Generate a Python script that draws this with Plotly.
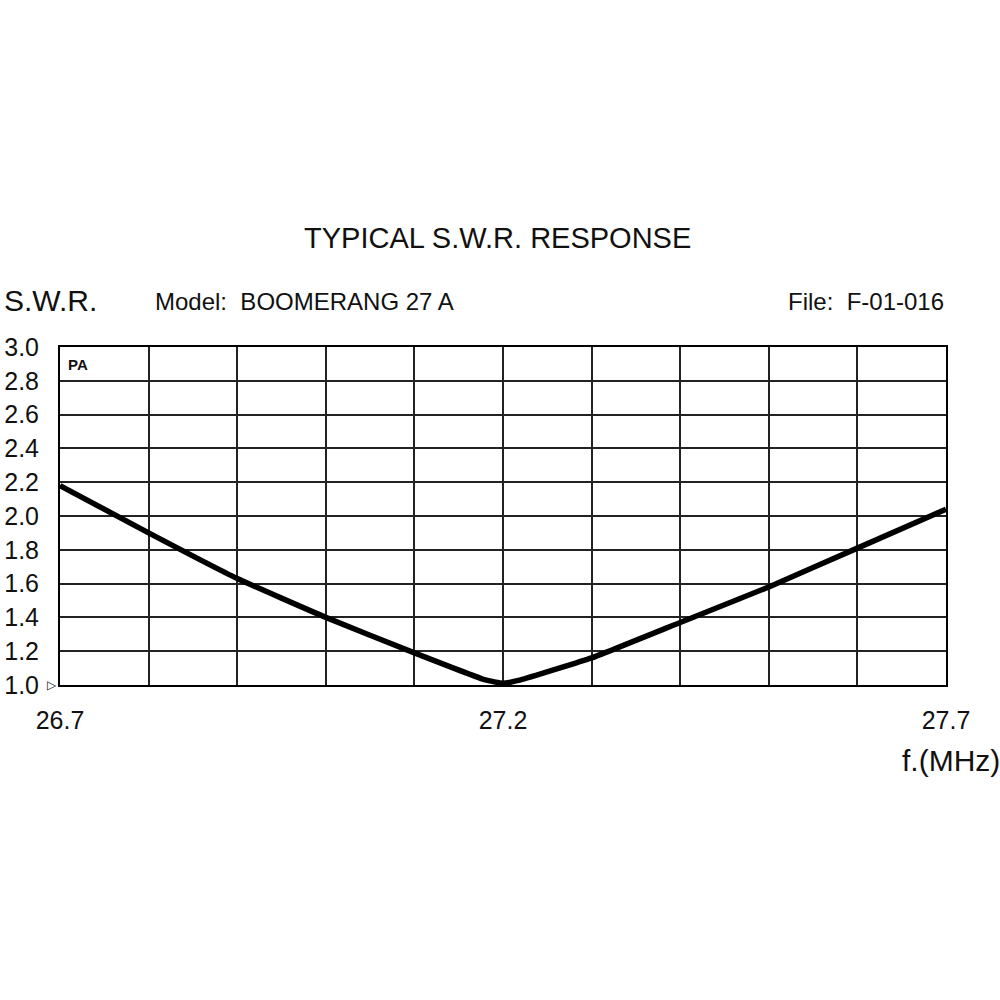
import plotly.graph_objects as go

freq = [26.7, 26.8, 26.9, 27.0, 27.1, 27.18, 27.2, 27.22, 27.3, 27.4, 27.5, 27.6, 27.7]
swr = [2.18, 1.90, 1.63, 1.40, 1.19, 1.03, 1.01, 1.03, 1.16, 1.37, 1.58, 1.81, 2.04]

x_grid = [26.7, 26.8, 26.9, 27.0, 27.1, 27.2, 27.3, 27.4, 27.5, 27.6, 27.7]
x_labels = ["26.7", "", "", "", "", "27.2", "", "", "", "", "27.7"]
y_ticks = [1.0, 1.2, 1.4, 1.6, 1.8, 2.0, 2.2, 2.4, 2.6, 2.8, 3.0]
y_labels = ["1.0", "1.2", "1.4", "1.6", "1.8", "2.0", "2.2", "2.4", "2.6", "2.8", "3.0"]

FONT = "Liberation Sans"

W = H = 1000
L, T, R, B = 60, 347, 54, 315
PW = W - L - R
PH = H - T - B


def px(xp):
    return (xp - L) / PW


def py(yp):
    return (H - B - yp) / PH


fig = go.Figure()
fig.add_trace(go.Scatter(x=freq, y=swr, mode="lines",
                         line=dict(color="black", width=5.5, shape="spline", smoothing=0.3),
                         showlegend=False, hoverinfo="skip"))

fig.update_layout(
    width=W, height=H, autosize=False,
    paper_bgcolor="white", plot_bgcolor="white",
    margin=dict(l=L, r=R, t=T, b=B, pad=0),
    font=dict(family=FONT, color="#111", size=20),
    xaxis=dict(range=[26.7, 27.7], tickvals=x_grid, ticktext=x_labels,
               showgrid=True, gridcolor="#222", gridwidth=2,
               showline=True, linecolor="black", linewidth=2, mirror=True,
               zeroline=False, ticks="", ticklabelstandoff=12, automargin=False,
               tickfont=dict(size=25, family=FONT, color="#111")),
    yaxis=dict(range=[1.0, 3.0], tickvals=y_ticks, ticktext=y_labels,
               showgrid=True, gridcolor="#222", gridwidth=2,
               showline=True, linecolor="black", linewidth=2, mirror=True,
               zeroline=False, ticks="", ticklabelstandoff=14, automargin=False,
               tickfont=dict(size=25, family=FONT, color="#111")),
    annotations=[
        dict(text="TYPICAL S.W.R. RESPONSE", x=px(497), y=py(238), xref="paper", yref="paper",
             showarrow=False, xanchor="center", yanchor="middle",
             font=dict(size=29, family=FONT, color="#111")),
        dict(text="S.W.R.", x=px(2), y=py(300), xref="paper", yref="paper", showarrow=False,
             xanchor="left", yanchor="middle", font=dict(size=30, family=FONT, color="#111")),
        dict(text="Model:  BOOMERANG 27 A", x=px(153), y=py(301), xref="paper", yref="paper",
             showarrow=False, xanchor="left", yanchor="middle",
             font=dict(size=24, family=FONT, color="#111")),
        dict(text="File:  F-01-016", x=px(946), y=py(301), xref="paper", yref="paper",
             showarrow=False, xanchor="right", yanchor="middle",
             font=dict(size=24, family=FONT, color="#111")),
        dict(text="f.(MHz)", x=px(1002), y=py(760), xref="paper", yref="paper",
             showarrow=False, xanchor="right", yanchor="middle",
             font=dict(size=30, family=FONT, color="#111")),
        dict(text="<b>PA</b>", x=px(66), y=py(364), xref="paper", yref="paper",
             showarrow=False, xanchor="left", yanchor="middle",
             font=dict(size=15, family=FONT, color="#111")),
        dict(text="▷", x=px(45), y=py(685), xref="paper", yref="paper",
             showarrow=False, xanchor="left", yanchor="middle",
             font=dict(size=12, family="DejaVu Sans", color="#111")),
    ],
)

fig.write_html("out.html", config={"displayModeBar": False},
               post_script="document.body.style.margin='0';document.body.style.overflow='hidden';")
